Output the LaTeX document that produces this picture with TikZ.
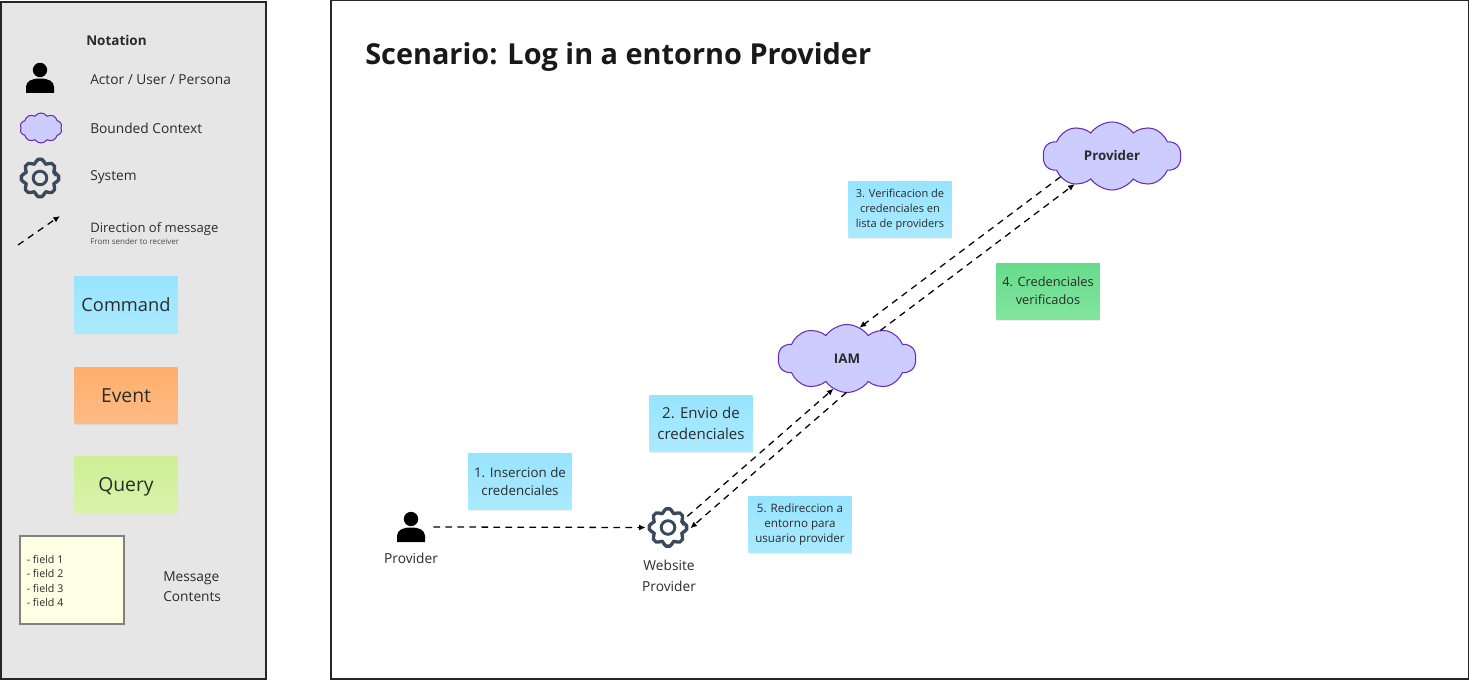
\documentclass[tikz,border=0pt]{standalone}
\usepackage{fontspec}
\setmainfont{Open Sans}
\usetikzlibrary{arrows.meta, shapes.symbols, shadows}

\definecolor{panelgray}{HTML}{E6E6E6}
\definecolor{cloudfill}{HTML}{CCCCFF}
\definecolor{cloudline}{HTML}{6A2DB8}
\definecolor{gearline}{HTML}{3A4A5C}
\definecolor{inktext}{HTML}{2B2B2B}
\definecolor{commandtop}{HTML}{97E4FF}
\definecolor{commandbot}{HTML}{ABEAFF}
\definecolor{eventtop}{HTML}{FFAF6C}
\definecolor{eventbot}{HTML}{FFBA85}
\definecolor{querytop}{HTML}{CFEF96}
\definecolor{querybot}{HTML}{D9F3A9}
\definecolor{okaytop}{HTML}{66DB8C}
\definecolor{okaybot}{HTML}{83E59F}
\definecolor{fieldsfill}{HTML}{FFFFE6}

\begin{document}
\begin{tikzpicture}[
    x=0.75pt, y=-0.75pt,
    >=Latex, % Set default arrow tip style
    msg/.style={->, dash pattern=on 5pt off 4pt, line width=0.95pt, black, >={Latex[length=5pt, width=4.5pt]}}, % Style for the messages
    sticky/.style={minimum width=77.6pt, minimum height=42.2pt, inner sep=0pt, align=center, text=inktext,
        drop shadow={shadow xshift=0.5pt, shadow yshift=-1pt, opacity=0.14}}, % Style for the notes
    commandnote/.style={sticky, top color=commandtop, bottom color=commandbot},
    eventnote/.style={sticky, top color=eventtop, bottom color=eventbot},
    querynote/.style={sticky, top color=querytop, bottom color=querybot},
    okaynote/.style={sticky, top color=okaytop, bottom color=okaybot},
    boundedctx/.style={cloud, cloud puffs=10, cloud puff arc=110, cloud ignores aspect, draw=cloudline, fill=cloudfill, line width=0.8pt, inner sep=0pt, outer sep=0pt, text=inktext, font=\fontsize{10pt}{12pt}\bfseries\selectfont},
    legendtext/.style={anchor=west, inner sep=0pt, text=inktext, font=\fontsize{10.3pt}{15pt}\selectfont},
    iconspot/.style={circle, minimum size=33.5pt, inner sep=0pt, outer sep=0pt},
    person/.pic={
        \fill[black] (0,0) circle [radius=7.2];
        \fill[black] (-14,23) -- (-14,17) .. controls (-14,11) and (-8,8.5) .. (0,8.5) .. controls (8,8.5) and (14,11) .. (14,17) -- (14,23) -- cycle;
    },
    gear/.pic={
        \draw[gearline, line width=2.5pt, rounded corners=1.4pt] (-15:15.2)
            \foreach \a in {0,45,...,315} { -- (\a-15:15.2) -- (\a-11:19) -- (\a+11:19) -- (\a+15:15.2) } -- cycle;
        \draw[gearline, line width=2.2pt] (0,0) circle [radius=6.8];
    }
]

    \useasboundingbox (0,0) rectangle (1469,680);

    % Panels
    \draw[fill=panelgray, draw=black!85, line width=1.5pt] (1,2) rectangle (266,679);
    \draw[fill=white, draw=black!85, line width=0.8pt] (331,0.5) rectangle (1469,679);

    % Notation
    \node[legendtext, font=\fontsize{10.1pt}{12pt}\bfseries\selectfont] (notation) at (86,40.5) {Notation};
    \pic at (40,70) {person};
    \node[legendtext] (actorlabel) at (90,79.5) {Actor / User / Persona};
    \node[boundedctx, minimum width=31.5pt, minimum height=22.5pt] (ctxicon) at (41,128) {};
    \node[legendtext] (ctxlabel) at (90,128.5) {Bounded Context};
    \pic at (40,178) {gear};
    \node[legendtext] (systemlabel) at (90,177.5) {System};
    \coordinate (senderpt) at (18,245);
    \coordinate (receiverpt) at (60,216);
    \draw[msg] (senderpt) -- (receiverpt);
    \node[legendtext, font=\fontsize{9.8pt}{13pt}\selectfont] (directionlabel) at (90,229) {Direction of message};
    \node[legendtext, font=\fontsize{6pt}{8pt}\selectfont, text=black!70] (fromlabel) at (90,242) {From sender to receiver};

    \node[commandnote, font=\fontsize{13.7pt}{17pt}\selectfont] (commandkey) at (126,304.5) {Command};
    \node[eventnote, font=\fontsize{14.5pt}{17pt}\selectfont] (eventkey) at (126,395.5) {Event};
    \node[querynote, text depth=1pt, font=\fontsize{14.5pt}{17pt}\selectfont] (querykey) at (126,485) {Query};

    \node[draw=black!50, fill=fieldsfill, line width=1.5pt, minimum width=78pt, minimum height=66.5pt, inner sep=0pt] (fieldsbox) at (72,580) {};
    \node[anchor=west, align=left, inner sep=0pt, text=inktext, font=\fontsize{8pt}{10.8pt}\selectfont] (fieldstext) at (26.5,581) {- field 1\\- field 2\\- field 3\\- field 4};
    \node[legendtext, align=left] (contentslabel) at (163,587) {Message\\Contents};

    % Scenario
    \node[anchor=west, inner sep=0pt, text=black!90, font=\fontsize{21.65pt}{25pt}\bfseries\selectfont] (scenario) at (365,57) {Scenario: Log in a entorno Provider};

    % Actor and system
    \pic at (411,519) {person};
    \node[iconspot] (actor) at (411,527) {};
    \node[text=inktext, inner sep=0pt, font=\fontsize{10.3pt}{13pt}\selectfont] (actorname) at (411,558) {Provider};
    \pic at (668,527.5) {gear};
    \node[iconspot] (website) at (668,527.5) {};
    \node[text=inktext, inner sep=0pt, align=center, font=\fontsize{10.3pt}{15.5pt}\selectfont] (websitename) at (669,576) {Website\\Provider};

    % Bounded contexts
    \node[boundedctx, minimum width=103.5pt, minimum height=51pt] (iam) at (847,358.5) {IAM};
    \node[boundedctx, minimum width=103.5pt, minimum height=51pt] (providerctx) at (1112,156) {Provider};

    % Notes
    \node[commandnote, font=\fontsize{10pt}{13.5pt}\selectfont] (stepone) at (520,481.5) {1. Insercion de\\credenciales};
    \node[commandnote, font=\fontsize{11.3pt}{15.8pt}\selectfont] (steptwo) at (701,423.5) {2. Envio de\\credenciales};
    \node[commandnote, font=\fontsize{8.3pt}{11.4pt}\selectfont] (stepthree) at (900,209.5) {3. Verificacion de\\credenciales en\\lista de providers};
    \node[okaynote, font=\fontsize{9.6pt}{13.4pt}\selectfont, text depth=1.5pt] (stepfour) at (1048,291.5) {4. Credenciales\\verificados};
    \node[commandnote, font=\fontsize{8.7pt}{11.4pt}\selectfont] (stepfive) at (800,524.5) {5. Redireccion a\\entorno para\\usuario provider};

    % Messages
    \draw[msg] (actor.east) -- (website.west);
    \draw[msg] (website.30) -- (iam.246);
    \draw[msg] (iam.269) -- (website.-2);
    \draw[msg] (providerctx.202) -- (iam.68);
    \draw[msg] (iam.40) -- (providerctx.217);

\end{tikzpicture}
\end{document}
